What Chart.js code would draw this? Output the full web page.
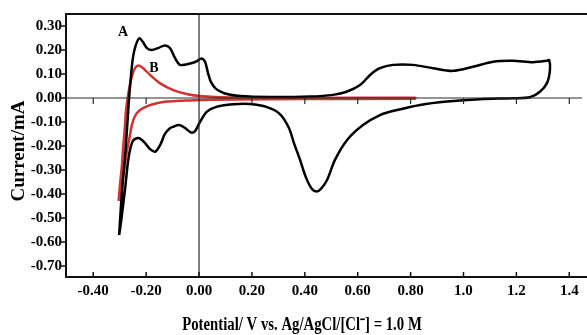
<!DOCTYPE html>
<html>
<head>
<meta charset="utf-8">
<script src="https://cdn.jsdelivr.net/npm/chart.js@4/dist/chart.umd.min.js"></script>
<style>
  html, body { margin: 0; padding: 0; background: #fff; }
  #wrap { width: 587px; height: 335px; position: relative; }
</style>
</head>
<body>
<div id="wrap"><canvas id="myChart" width="587" height="335"></canvas></div>
<script>
// curve A (black) - potential (V) and current (mA), traced in scan order
var curveAV = [-0.302,-0.295,-0.287,-0.278,-0.270,-0.265,-0.257,-0.250,-0.240,-0.226,-0.212,-0.197,-0.178,-0.155,-0.129,-0.110,-0.091,-0.072,-0.049,-0.026,-0.008,0.010,0.023,0.034,0.045,0.064,0.098,0.155,0.268,0.420,0.507,0.558,0.609,0.647,0.684,0.733,0.809,0.885,0.960,1.036,1.112,1.187,1.263,1.315,1.324,1.327,1.316,1.289,1.251,1.187,1.062,0.938,0.836,0.749,0.684,0.620,0.560,0.514,0.484,0.461,0.445,0.427,0.405,0.382,0.359,0.340,0.306,0.257,0.193,0.129,0.068,0.030,0.004,-0.015,-0.030,-0.047,-0.064,-0.078,-0.095,-0.110,-0.129,-0.147,-0.166,-0.185,-0.204,-0.223,-0.236,-0.250,-0.261,-0.270,-0.278,-0.287,-0.295,-0.302]
var curveAI = [-0.571,-0.446,-0.333,-0.217,-0.092,-0.008,0.096,0.167,0.217,0.249,0.233,0.208,0.200,0.208,0.219,0.208,0.167,0.138,0.140,0.146,0.154,0.165,0.150,0.104,0.067,0.038,0.019,0.008,0.004,0.006,0.013,0.026,0.054,0.096,0.124,0.138,0.138,0.124,0.113,0.130,0.151,0.155,0.149,0.155,0.158,0.117,0.063,0.026,0.003,-0.001,-0.005,-0.015,-0.029,-0.050,-0.071,-0.113,-0.175,-0.258,-0.342,-0.379,-0.390,-0.379,-0.333,-0.258,-0.188,-0.125,-0.067,-0.038,-0.025,-0.026,-0.036,-0.057,-0.099,-0.138,-0.144,-0.130,-0.117,-0.113,-0.119,-0.126,-0.150,-0.196,-0.224,-0.213,-0.188,-0.169,-0.168,-0.179,-0.217,-0.279,-0.363,-0.446,-0.517,-0.571]

// curve B (red)
var curveBV = [-0.304,-0.299,-0.292,-0.287,-0.282,-0.276,-0.270,-0.263,-0.254,-0.242,-0.229,-0.211,-0.185,-0.147,-0.097,-0.047,0.004,0.117,0.382,0.817,0.817,0.382,0.155,0.004,-0.072,-0.122,-0.160,-0.193,-0.223,-0.242,-0.254,-0.263,-0.272,-0.280,-0.288,-0.297,-0.304]
var curveBI = [-0.429,-0.363,-0.286,-0.208,-0.147,-0.050,-0.001,0.046,0.089,0.124,0.135,0.124,0.096,0.061,0.033,0.017,0.008,0.002,0.000,0.001,-0.003,-0.004,-0.006,-0.008,-0.012,-0.015,-0.022,-0.033,-0.050,-0.075,-0.113,-0.167,-0.217,-0.279,-0.333,-0.392,-0.429]

var xTicks = [-0.4,-0.2,0,0.2,0.4,0.6,0.8,1.0,1.2,1.4]
var xTickLabels = ["-0.40","-0.20","0.00","0.20","0.40","0.60","0.80","1.0","1.2","1.4"]
var yTicks = [0.3,0.2,0.1,0,-0.1,-0.2,-0.3,-0.4,-0.5,-0.6,-0.7]
var yTickLabels = ["0.30","0.20","0.10","0.00","-0.10","-0.20","-0.30","-0.40","-0.50","-0.60","-0.70"]

var serif = "'Liberation Serif', 'Times New Roman', serif"

function toPoints(xs, ys) {
    var out = []
    for (var i = 0; i < xs.length; i++) {
        out.push({x: xs[i], y: ys[i]})
    }
    return out
}

// axes, inner zero lines, tick marks, titles and curve labels
var frame = {
    id: 'frame',
    afterDraw: function(chart) {
        var ctx = chart.ctx
        var xs = chart.scales.x
        var ys = chart.scales.y
        var a = chart.chartArea
        var x0 = xs.getPixelForValue(0)
        var y0 = ys.getPixelForValue(0)
        ctx.save()

        // zero lines
        ctx.strokeStyle = '#2a2a2a'
        ctx.lineWidth = 1.2
        ctx.beginPath()
        ctx.moveTo(x0, a.top); ctx.lineTo(x0, a.bottom)
        ctx.moveTo(a.left, y0); ctx.lineTo(a.right - 5, y0)
        xTicks.forEach(function(t) {
            var px = xs.getPixelForValue(t)
            ctx.moveTo(px, y0); ctx.lineTo(px, y0 + 6)
        })
        ctx.stroke()

        // frame
        ctx.strokeStyle = '#111'
        ctx.lineWidth = 2
        ctx.beginPath()
        ctx.moveTo(a.right, a.top); ctx.lineTo(a.left, a.top)
        ctx.lineTo(a.left, a.bottom); ctx.lineTo(a.right, a.bottom)
        ctx.stroke()

        ctx.lineWidth = 1.5
        ctx.beginPath()
        yTicks.forEach(function(t) {
            var py = ys.getPixelForValue(t)
            ctx.moveTo(a.left, py); ctx.lineTo(a.left - 5, py)
        })
        xTicks.forEach(function(t) {
            var px = xs.getPixelForValue(t)
            ctx.moveTo(px, a.bottom); ctx.lineTo(px, a.bottom - 5)
        })
        ctx.stroke()

        // titles
        ctx.fillStyle = '#000'
        ctx.textAlign = 'center'
        ctx.textBaseline = 'middle'
        ctx.font = 'bold 18px ' + serif
        ctx.save()
        ctx.translate(302, 325)
        ctx.scale(0.82, 1)
        ctx.fillText('Potential/ V vs. Ag/AgCl/[Cl\u207B] = 1.0 M', 0, 0)
        ctx.restore()

        ctx.save()
        ctx.translate(19, 151)
        ctx.rotate(-Math.PI / 2)
        ctx.font = 'bold 19px ' + serif
        ctx.fillText('Current/mA', 0, 0)
        ctx.restore()

        ctx.font = 'bold 14px ' + serif
        ctx.fillText('A', 123, 32)
        ctx.fillText('B', 154, 68)
        ctx.restore()
    }
}

var ctx = document.getElementById('myChart').getContext('2d')
var myChart = new Chart(ctx, {
    type: 'scatter',
    data: {
        datasets: [{
            label: 'A',
            data: toPoints(curveAV, curveAI),
            showLine: true,
            borderColor: '#000',
            borderWidth: 2.5,
            pointRadius: 0,
            tension: 0.3
        }, {
            label: 'B',
            data: toPoints(curveBV, curveBI),
            showLine: true,
            borderColor: '#d13232',
            borderWidth: 2.5,
            pointRadius: 0,
            tension: 0.3
        }]
    },
    options: {
        responsive: false,
        animation: false,
        layout: { padding: { top: 14, right: 0, left: 0, bottom: 0 } },
        scales: {
            x: {
                type: 'linear',
                min: -0.503,
                max: 1.467,
                grid: { display: false, drawTicks: false },
                border: { display: false },
                afterBuildTicks: function(scale) {
                    scale.ticks = xTicks.map(function(v) { return {value: v} })
                },
                afterFit: function(scale) { scale.height = 58 },
                ticks: {
                    autoSkip: false,
                    maxRotation: 0,
                    padding: 5,
                    color: '#000',
                    font: { family: serif, size: 15, weight: 'bold' },
                    callback: function(v) {
                        var i = xTicks.indexOf(v)
                        return i >= 0 ? xTickLabels[i] : ''
                    }
                }
            },
            y: {
                type: 'linear',
                min: -0.746,
                max: 0.35,
                grid: { display: false, drawTicks: false },
                border: { display: false },
                afterBuildTicks: function(scale) {
                    scale.ticks = yTicks.map(function(v) { return {value: v} })
                },
                afterFit: function(scale) { scale.width = 66 },
                ticks: {
                    autoSkip: false,
                    padding: 4,
                    color: '#000',
                    font: { family: serif, size: 15, weight: 'bold' },
                    callback: function(v) {
                        var i = yTicks.indexOf(v)
                        return i >= 0 ? yTickLabels[i] : ''
                    }
                }
            }
        },
        plugins: {
            legend: { display: false },
            tooltip: { enabled: false }
        }
    },
    plugins: [frame]
})
</script>
</body>
</html>
